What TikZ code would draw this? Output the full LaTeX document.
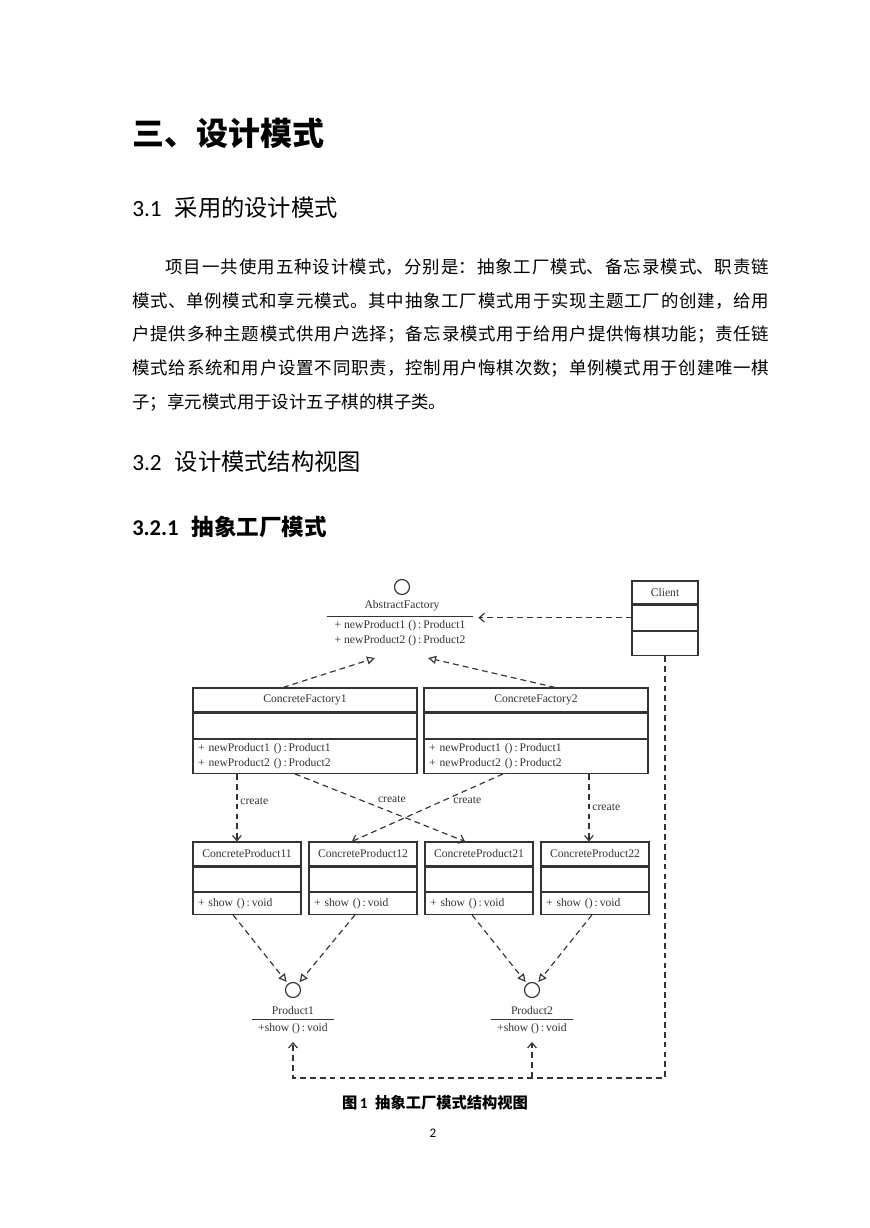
\documentclass[tikz,border=0pt]{standalone}
\usepackage{fontspec}
\setmainfont{Liberation Serif}
\newfontfamily\cjk{Noto Sans CJK SC}
\newfontfamily\latinsans{Carlito}
\usetikzlibrary{arrows.meta,positioning}
\XeTeXlinebreaklocale "zh"
\XeTeXlinebreakskip=0pt plus 3pt
\newcommand\fullline[1]{\noindent#1\parfillskip=0pt\relax\par}
\colorlet{ink}{black!80}

\begin{document}
\begin{tikzpicture}[x=0.241657mm, y=-0.241657mm,
    every node/.style={inner sep=0pt},
    uml/.style={font=\fontsize{8}{10.3}\selectfont, text=ink},
    fbox/.style={uml, draw=ink, line width=0.8pt, minimum width=154pt},
    pbox/.style={uml, draw=ink, line width=0.8pt, minimum width=74.3pt},
    cbox/.style={uml, draw=ink, line width=0.8pt, minimum width=45.4pt},
    ops/.style={align=left, inner xsep=3.5pt},
    iface/.style={circle, draw=ink, line width=0.8pt, minimum size=10.3pt},
    dep/.style={draw=ink, line width=0.8pt, dash pattern=on 4pt off 2.8pt,
      -{Straight Barb[length=3.5pt,width=6pt]}},
    real/.style={draw=ink, line width=0.8pt, dash pattern=on 4pt off 2.8pt,
      -{Triangle[open,length=5.5pt,width=5.5pt]}},
    lbl/.style={uml, inner sep=2pt},
    para/.style={anchor=west, font=\cjk\fontsize{12}{14}\selectfont}
  ]
  \fill[white] (0,0) rectangle (869,1228);
  \useasboundingbox (0,0) rectangle (869,1228);

  % headings and text
  \node[anchor=west, font=\cjk\bfseries\fontsize{22}{26}\selectfont] (title) at (132,133) {三、设计模式};
  \node[anchor=west, font=\fontsize{16}{19}\selectfont] (secA) at (132,208)
    {{\latinsans 3.1}\hspace{9pt}{\cjk 采用的设计模式}};
  \node[para, text width=415.3pt, align=justify] (lineA) at (165,267)
    {\fullline{项目一共使用五种设计模式，分别是：抽象工厂模式、备忘录模式、职责链}};
  \node[para, text width=438pt, align=justify] (lineB) at (132,301)
    {\fullline{模式、单例模式和享元模式。其中抽象工厂模式用于实现主题工厂的创建，给用}};
  \node[para, text width=438pt, align=justify] (lineC) at (132,335)
    {\fullline{户提供多种主题模式供用户选择；备忘录模式用于给用户提供悔棋功能；责任链}};
  \node[para, text width=438pt, align=justify] (lineD) at (132,369)
    {\fullline{模式给系统和用户设置不同职责，控制用户悔棋次数；单例模式用于创建唯一棋}};
  \node[para] (lineE) at (132,403) {子；享元模式用于设计五子棋的棋子类。};
  \node[anchor=west, font=\fontsize{16}{19}\selectfont] (secB) at (132,462)
    {{\latinsans 3.2}\hspace{9pt}{\cjk 设计模式结构视图}};
  \node[anchor=west, font=\fontsize{15.5}{19}\selectfont] (secC) at (132,527)
    {{\latinsans\bfseries 3.2.1}\hspace{9pt}{\cjk\bfseries 抽象工厂模式}};

  % abstract factory and client
  \node[iface] (AFcirc) at (402,587) {};
  \node[uml] (AFname) at (402,606) {AbstractFactory};
  \node[uml, align=left, minimum width=100.4pt, minimum height=22pt] (AFops) at (400,633)
    {+ newProduct1 ()\,:\,Product1\\+ newProduct2 ()\,:\,Product2};
  \draw[ink, line width=0.8pt] (AFops.north west) -- (AFops.north east);
  \node[cbox, minimum height=15.8pt] (Cname) at (665,592.5) {Client};
  \node[cbox, minimum height=17.2pt, below=0pt of Cname] (Cattr) {};
  \node[cbox, minimum height=16.5pt, below=0pt of Cattr] (Cops) {};

  % concrete factories
  \node[fbox, minimum height=16.5pt] (CF1name) at (305,700) {ConcreteFactory1};
  \node[fbox, minimum height=17.2pt, below=0pt of CF1name] (CF1attr) {};
  \node[fbox, ops, minimum height=23.4pt, text width=147pt, below=0pt of CF1attr] (CF1ops)
    {+ newProduct1 ()\,:\,Product1\\+ newProduct2 ()\,:\,Product2};
  \node[fbox, minimum height=16.5pt] (CF2name) at (536,700) {ConcreteFactory2};
  \node[fbox, minimum height=17.2pt, below=0pt of CF2name] (CF2attr) {};
  \node[fbox, ops, minimum height=23.4pt, text width=147pt, below=0pt of CF2attr] (CF2ops)
    {+ newProduct1 ()\,:\,Product1\\+ newProduct2 ()\,:\,Product2};

  % concrete products
  \foreach \n/\x in {11/247,12/363,21/479,22/595}{
    \node[pbox, minimum height=16.5pt] (CP\n name) at (\x,854) {ConcreteProduct\n};
    \node[pbox, minimum height=16.5pt, below=0pt of CP\n name] (CP\n attr) {};
    \node[pbox, ops, minimum height=15.1pt, text width=67.3pt, below=0pt of CP\n attr] (CP\n ops)
      {+ show ()\,:\,void};
  }

  % product interfaces
  \node[iface] (P1circ) at (293,990) {};
  \node[uml] (P1name) at (293,1011) {Product1};
  \node[uml, minimum width=55.7pt, minimum height=12.4pt] (P1ops) at (293,1029) {+show ()\,:\,void};
  \draw[ink, line width=0.8pt] (P1ops.north west) -- (P1ops.north east);
  \node[iface] (P2circ) at (532,990) {};
  \node[uml] (P2name) at (532,1011) {Product2};
  \node[uml, minimum width=55.7pt, minimum height=12.4pt] (P2ops) at (532,1029) {+show ()\,:\,void};
  \draw[ink, line width=0.8pt] (P2ops.north west) -- (P2ops.north east);

  % connectors
  \draw[dep, shorten >=3.5pt] (Cattr.west) -- (Cattr.west -| AFops.north east);
  \draw[real] ([xshift=-15.1pt]CF1name.north) -- ([xshift=-17.2pt,yshift=-6pt]AFops.south);
  \draw[real] ([xshift=13.1pt]CF2name.north) -- ([xshift=19.3pt,yshift=-6pt]AFops.south);
  \draw[dep] ([xshift=-46.8pt]CF1ops.south) -- node[lbl, pos=0.4, right] {create}
    ([xshift=-46.8pt]CF1ops.south |- CP11name.north);
  \draw[dep] ([xshift=-6.9pt]CF1ops.south) -- node[lbl, pos=0.57, above=4pt] {create}
    ([xshift=-9.6pt]CP21name.north);
  \draw[dep] ([xshift=-22.7pt]CF2ops.south) -- node[lbl, pos=0.39, right=4pt] {create}
    ([xshift=-7.6pt]CP12name.north);
  \draw[dep] ([xshift=36.4pt]CF2ops.south) -- node[lbl, pos=0.5, right] {create}
    ([xshift=36.4pt]CF2ops.south |- CP22name.north);
  \draw[real, shorten >=1.5pt] ([xshift=-9.6pt]CP11ops.south) -- (P1circ);
  \draw[real, shorten >=1.5pt] ([xshift=-5.5pt]CP12ops.south) -- (P1circ);
  \draw[real, shorten >=1.5pt] ([xshift=-4.8pt]CP21ops.south) -- (P2circ);
  \draw[real, shorten >=1.5pt] ([xshift=-2.1pt]CP22ops.south) -- (P2circ);
  \coordinate (bus) at (665,1078);
  \draw[dep, shorten >=2.5pt] (Cops.south) -- (bus) -| (P1ops.south);
  \draw[dep, shorten >=2.5pt] (bus -| P2ops.south) -- (P2ops.south);

  % caption
  \node[font=\cjk\bfseries\fontsize{10.5}{12}\selectfont] (caption) at (435,1103)
    {图\,{\latinsans\bfseries 1}\enspace 抽象工厂模式结构视图};
  \node[font=\latinsans\fontsize{9}{11}\selectfont] (pageno) at (433,1133) {2};
\end{tikzpicture}
\end{document}
